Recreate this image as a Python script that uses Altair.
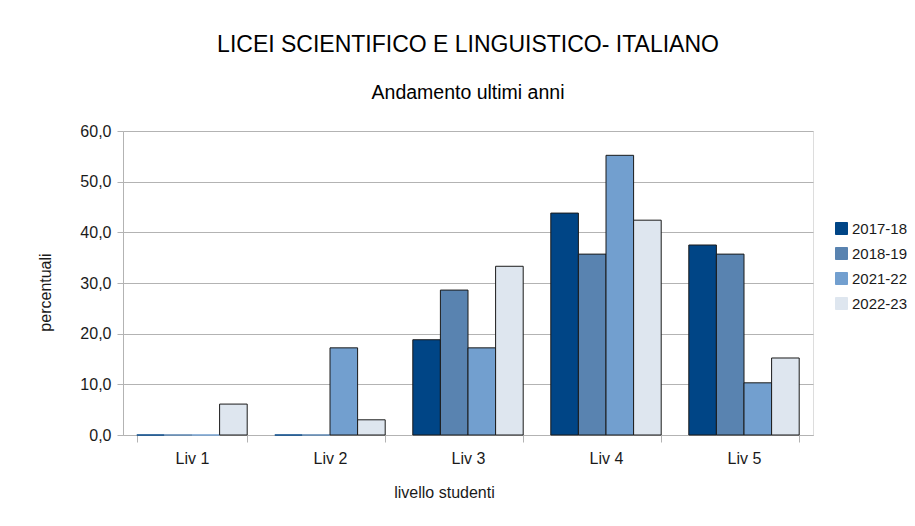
import altair as alt
import pandas as pd

categories = ["Liv 1", "Liv 2", "Liv 3", "Liv 4", "Liv 5"]
years = ["2017-18", "2018-19", "2021-22", "2022-23"]
v_2017_18 = [0.0, 0.0, 18.8, 43.8, 37.5]
v_2018_19 = [0.0, 0.0, 28.6, 35.7, 35.7]
v_2021_22 = [0.0, 17.2, 17.2, 55.2, 10.3]
v_2022_23 = [6.1, 3.0, 33.3, 42.4, 15.2]
colors = ["#004586", "#5983b0", "#729fcf", "#dee6ef"]
y_ticks = [0, 10, 20, 30, 40, 50, 60]

rows = []
for yr, vals in zip(years, [v_2017_18, v_2018_19, v_2021_22, v_2022_23]):
    for c, v in zip(categories, vals):
        rows.append({"livello": c, "anno": yr, "valore": v})
df = pd.DataFrame(rows)

FONT = "Liberation Sans"
GRID = "#b3b3b3"

bars = alt.Chart(df).mark_bar(strokeWidth=1).encode(
    x=alt.X(
        "livello:N",
        sort=categories,
        scale=alt.Scale(paddingInner=0.2, paddingOuter=0.1),
        axis=alt.Axis(
            title="livello studenti",
            labelAngle=0,
            tickBand="extent",
            tickSize=7,
            tickColor=GRID,
            domainColor=GRID,
            grid=False,
            labelFontSize=16,
            labelPadding=8,
            labelColor="#1a1a1a",
            labelFont=FONT,
            titleFont=FONT,
            titleFontSize=16,
            titleFontWeight="normal",
            titleColor="#1a1a1a",
            titleX=321,
            titleY=62,
            titleAlign="center",
            titleBaseline="alphabetic",
        ),
    ),
    xOffset=alt.XOffset("anno:N", sort=years, scale=alt.Scale(paddingInner=0, paddingOuter=0)),
    y=alt.Y(
        "valore:Q",
        scale=alt.Scale(domain=[0, 60]),
        axis=alt.Axis(
            values=y_ticks,
            labelExpr="replace(format(datum.value, '.1f'), '.', ',')",
            title="percentuali",
            tickSize=6,
            tickColor=GRID,
            domainColor=GRID,
            gridColor=GRID,
            labelFontSize=16,
            labelPadding=6,
            labelColor="#1a1a1a",
            labelFont=FONT,
            titleFont=FONT,
            titleFontSize=16,
            titleFontWeight="normal",
            titleColor="#1a1a1a",
            titleX=-78,
            titleY=161,
            titleBaseline="middle",
            titleAlign="center",
        ),
    ),
    color=alt.Color(
        "anno:N",
        sort=years,
        scale=alt.Scale(domain=years, range=colors),
        legend=alt.Legend(
            title=None,
            orient="none",
            legendX=711,
            legendY=90,
            symbolType="square",
            symbolSize=144,
            symbolStrokeColor="#1a1a1a",
            symbolStrokeWidth=1,
            labelFontSize=15,
            labelFont=FONT,
            labelColor="#1a1a1a",
            labelOffset=3,
            rowPadding=8,
        ),
    ),
    stroke=alt.condition(
        "datum.valore > 0",
        alt.value("#1a1a1a"),
        alt.Stroke("anno:N", sort=years, scale=alt.Scale(domain=years, range=colors), legend=None),
    ),
)

chart = bars.properties(
    width=690,
    height=304,
    padding={"left": 115, "top": 123, "right": 94, "bottom": 83},
    autosize=alt.AutoSizeParams(type="none"),
    title=alt.Title(
        "LICEI SCIENTIFICO E LINGUISTICO- ITALIANO",
        subtitle="Andamento ultimi anni",
        font=FONT,
        subtitleFont=FONT,
        fontSize=23,
        subtitleFontSize=19.5,
        fontWeight="normal",
        color="#000000",
        subtitleColor="#000000",
        anchor="middle",
        offset=21,
        subtitlePadding=27,
    ),
).configure_view(stroke=GRID).configure(background="white")

chart.save("out.html", embed_options={"renderer": "svg", "actions": False})
